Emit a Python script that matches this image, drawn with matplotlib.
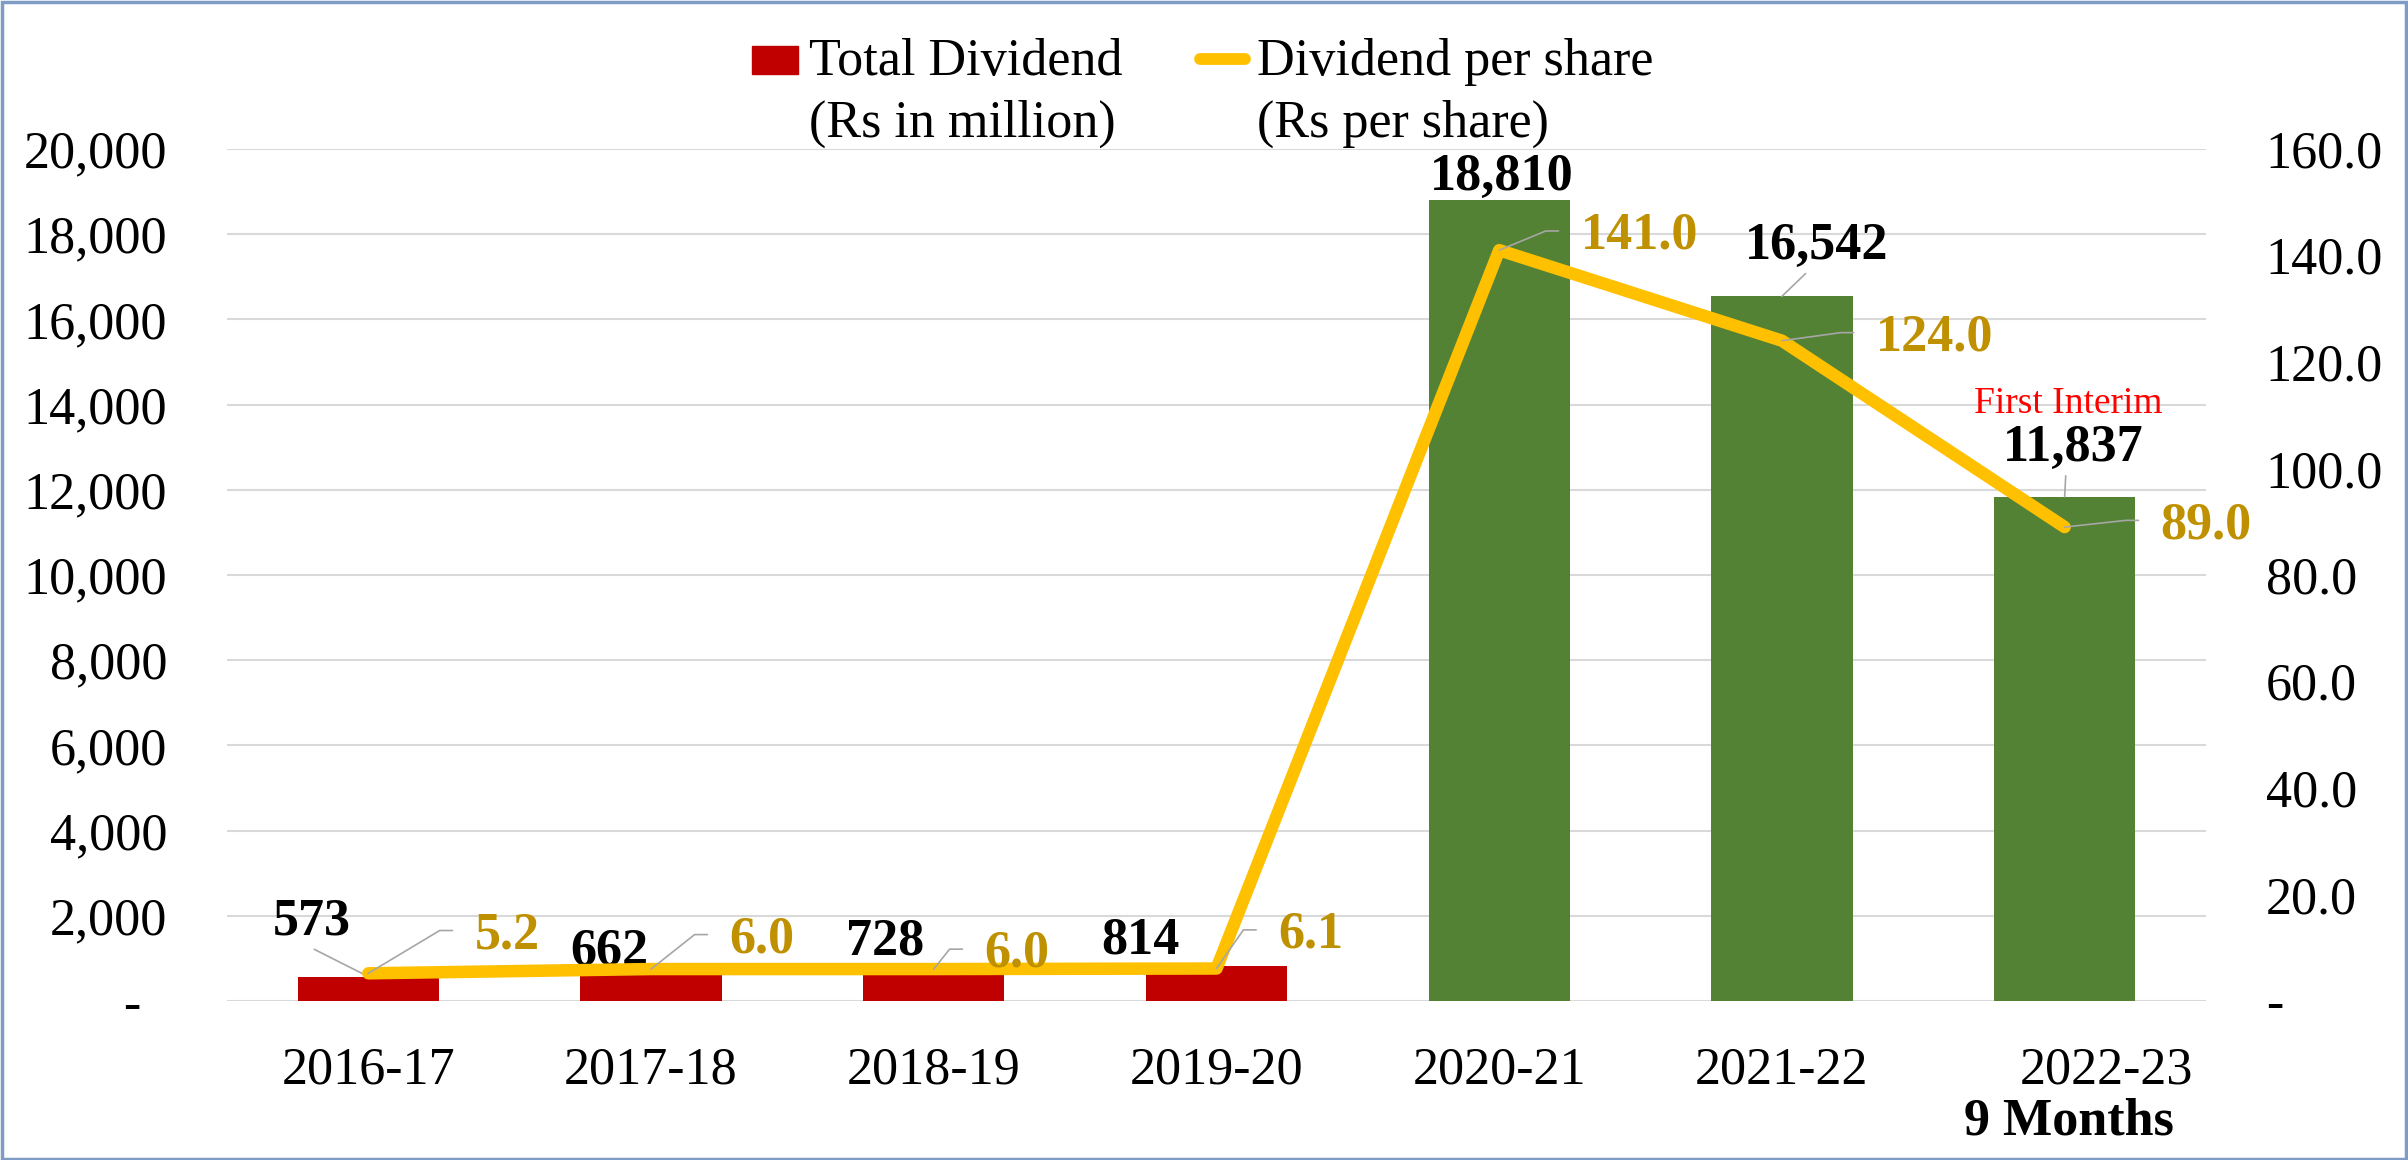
import matplotlib.pyplot as plt
import matplotlib.transforms as mtransforms
from matplotlib.patches import Rectangle
from matplotlib.lines import Line2D

years = ['2016-17', '2017-18', '2018-19', '2019-20', '2020-21', '2021-22', '2022-23']
total_dividend = [573, 662, 728, 814, 18810, 16542, 11837]   # Rs in million
dps = [5.2, 6.0, 6.0, 6.1, 141.0, 124.0, 89.0]                # Rs per share
bar_colors = ['#C00000'] * 4 + ['#548235'] * 3

# label placement (offset points from the bar top / line point)
bar_lbl_off = [(-41, 30), (-30, 6), (-35, 11), (-55, 9), (2, 7), (25, 27), (6, 26)]
bar_lbl_leader = [True, False, False, False, False, True, True]
dps_lbl_off = [(100, 18), (80, 12), (60, 1.5), (68, 15), (101, 1), (110, -7), (102, -8)]

W, H = 2408, 1160
FS = 37.5
GOLD = '#BF9000'

plt.rcParams['font.family'] = ['Liberation Serif', 'DejaVu Serif']

fig = plt.figure(figsize=(W / 100, H / 100), dpi=100)
ax = fig.add_axes([227 / W, 1 - 1001 / H, (2206 - 227) / W, (1001 - 149) / H])

x = list(range(len(years)))
ax.bar(x, total_dividend, width=0.5, color=bar_colors, zorder=2)
ax.set_xlim(-0.5, len(years) - 0.5)
ax.set_ylim(0, 20000)
yt = list(range(0, 20001, 2000))
ax.set_yticks(yt)
ax.set_yticklabels(['-  ' if v == 0 else f'{v:,}' for v in yt])
ax.grid(axis='y', color='#D9D9D9', lw=1.5)
ax.set_axisbelow(True)
ax.tick_params(axis='y', length=0, pad=43, labelsize=FS)
ax.tick_params(axis='x', length=0, pad=33, labelsize=FS)
ax.set_xticks(x)
ax.set_xticklabels(years)
for s in ax.spines.values():
    s.set_visible(False)

# last category label sits a bit to the right, with "9 Months" below
last = ax.get_xticklabels()[-1]
last.set_transform(last.get_transform() + mtransforms.ScaledTranslation(30 / 72, 0, fig.dpi_scale_trans))
ax.annotate('9 Months', xy=(x[-1], 0), xycoords=('data', 'axes fraction'),
            xytext=(3, -96), textcoords='offset points', ha='center', va='baseline',
            fontsize=FS, fontweight='bold')

ax2 = ax.twinx()
ax2.plot(x, dps, color='#FFC000', lw=9, solid_joinstyle='round', solid_capstyle='round', zorder=3)
ax2.set_ylim(0, 160)
yt2 = list(range(0, 161, 20))
ax2.set_yticks(yt2)
ax2.set_yticklabels(['-' if v == 0 else f'{v:.1f}' for v in yt2])
ax2.tick_params(axis='y', length=0, pad=43, labelsize=FS)
for s in ax2.spines.values():
    s.set_visible(False)

# bar labels
for i, v in enumerate(total_dividend):
    ap = None
    if bar_lbl_leader[i]:
        ap = dict(arrowstyle='-', color='#A6A6A6', lw=1.2, relpos=(0.45, 0), shrinkA=1, shrinkB=0)
    ax.annotate(f'{v:,}', xy=(i, v), xytext=bar_lbl_off[i], textcoords='offset points',
                ha='center', va='baseline', fontsize=FS, fontweight='bold', color='black',
                arrowprops=ap)

ax.annotate('First Interim', xy=(x[-1], total_dividend[-1]), xytext=(3, 60.5),
            textcoords='offset points', ha='center', va='baseline', fontsize=27, color='red')

# dividend per share labels
for i, v in enumerate(dps):
    ax2.annotate(f'{v:.1f}', xy=(i, v), xytext=dps_lbl_off[i], textcoords='offset points',
                 ha='center', va='baseline', fontsize=FS, fontweight='bold', color=GOLD,
                 arrowprops=dict(arrowstyle='-', color='#A6A6A6', lw=1.2, relpos=(0, 0.6),
                                 shrinkA=14, shrinkB=0,
                                 connectionstyle='arc,angleA=180,armA=35,rad=0'))

# legend drawn by hand (key on the first text line, like the original)
fig.add_artist(Rectangle((752 / W, 1 - 74 / H), 46 / W, 28 / H, transform=fig.transFigure,
                         color='#C00000'))
fig.add_artist(Line2D([1200 / W, 1245 / W], [1 - 59 / H] * 2, transform=fig.transFigure,
                      lw=8.5, color='#FFC000', solid_capstyle='round'))
fig.text(809 / W, 1 - 75 / H, 'Total Dividend', fontsize=FS, va='baseline')
fig.text(809 / W, 1 - 137 / H, '(Rs in million)', fontsize=FS, va='baseline')
fig.text(1257 / W, 1 - 75 / H, 'Dividend per share', fontsize=FS, va='baseline')
fig.text(1257 / W, 1 - 137 / H, '(Rs per share)', fontsize=FS, va='baseline')

# chart border
fig.add_artist(Rectangle((0.001, 0.001), 0.998, 0.997, transform=fig.transFigure,
                         fill=False, edgecolor='#7F9CC7', lw=2.5))

fig.savefig('out.png', dpi=100)
